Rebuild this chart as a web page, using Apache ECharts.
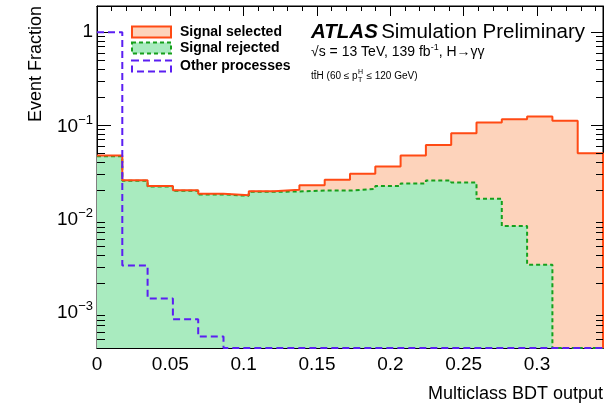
<!DOCTYPE html>
<html><head><meta charset="utf-8">
<script src="https://cdn.jsdelivr.net/npm/echarts@6/dist/echarts.min.js"></script>
<style>html,body{margin:0;padding:0;background:#fff}#c{width:615px;height:407px}</style>
</head><body><div id="c"></div>
<script>
// ---------------- data ----------------
const xMin = 0, xMax = 0.345, nBins = 20;
const yMin = 0.0004, yMax = 1.9;
const seriesNames = ['Signal selected', 'Signal rejected', 'Other processes'];
const signalSelected = [0.0469, 0.0255, 0.0221, 0.0199, 0.0182, 0.0176, 0.0194, 0.0201, 0.0225, 0.0257,
                        0.0298, 0.0357, 0.0469, 0.0610, 0.0815, 0.106, 0.115, 0.123, 0.111, 0.0497];
const signalRejected = [0.0462, 0.0251, 0.0218, 0.0196, 0.0179, 0.0173, 0.0191, 0.0193, 0.0197, 0.0197,
                        0.0206, 0.0220, 0.0235, 0.0253, 0.0240, 0.0161, 0.0082, 0.00315, 0, 0];
const otherProcesses = [0.99, 0.00309, 0.00136, 0.000815, 0.000531, 0, 0, 0, 0, 0,
                        0, 0, 0, 0, 0, 0, 0, 0, 0, 0];
const yDecades = [-4, -3, -2, -1, 0];
const xTitle = 'Multiclass BDT output';
const yTitle = 'Event Fraction';

// ---------------- style ----------------
const FONT = '"Liberation Sans", Arial, Helvetica, sans-serif';
const ORANGE_LINE = '#ff4a14', ORANGE_FILL = '#fdd3bb';
const GREEN_LINE = '#16a01c', GREEN_FILL = '#a9ebbf';
const BLUE = '#5b1ff2';

const binWidth = (xMax - xMin) / nBins;
const edges = Array.from({length: nBins + 1}, (_, i) => +(xMin + i * binWidth).toFixed(6));
function steps(vals) {
  const f = v => (v > 0 ? v : yMin);
  const d = vals.map((v, i) => [edges[i], f(v)]);
  d.push([edges[nBins], f(vals[nBins - 1])]);
  d.push([edges[nBins], yMin]);
  return d;
}

const chart = echarts.init(document.getElementById('c'), null, {renderer: 'canvas'});

const xBase = {type: 'value', min: xMin, max: xMax, splitLine: {show: false},
  axisLine: {show: true, onZero: false, lineStyle: {color: '#000', width: 1}}};
const yBase = {type: 'log', logBase: 10, min: yMin, max: yMax, splitLine: {show: false},
  axisLine: {show: true, onZero: false, lineStyle: {color: '#000', width: 1}}};

chart.setOption({
  animation: false,
  backgroundColor: '#fff',
  grid: {left: 97, right: 12, top: 6, bottom: 59, show: true, borderColor: '#000', borderWidth: 1},
  xAxis: [
    Object.assign({}, xBase, {position: 'bottom', interval: 0.05,
      axisTick: {inside: true, length: 10, lineStyle: {color: '#000'}},
      axisLabel: {margin: 7, fontSize: 19, fontFamily: FONT, color: '#000', showMaxLabel: false}}),
    Object.assign({}, xBase, {position: 'bottom', interval: 0.01,
      axisTick: {inside: true, length: 5, lineStyle: {color: '#000'}}, axisLabel: {show: false}}),
    Object.assign({}, xBase, {position: 'top', interval: 0.05,
      axisTick: {inside: true, length: 10, lineStyle: {color: '#000'}}, axisLabel: {show: false}}),
    Object.assign({}, xBase, {position: 'top', interval: 0.01,
      axisTick: {inside: true, length: 5, lineStyle: {color: '#000'}}, axisLabel: {show: false}})
  ],
  yAxis: [
    Object.assign({}, yBase, {position: 'left',
      axisTick: {inside: true, length: 14, lineStyle: {color: '#000'}},
      axisLabel: {margin: 4, showMinLabel: false, showMaxLabel: false, color: '#000',
        formatter: function (v) {
          const e = Math.round(Math.log10(v));
          return e === 0 ? '{n|1}' : '{n|10}{s|\u2212' + (-e) + '}';
        },
        rich: {
          n: {fontSize: 19, fontFamily: FONT, color: '#000', verticalAlign: 'bottom'},
          s: {fontSize: 13, fontFamily: FONT, color: '#000', verticalAlign: 'bottom', padding: [0, 0, 9, 0]}
        }}}),
    Object.assign({}, yBase, {position: 'right',
      axisTick: {inside: true, length: 12, lineStyle: {color: '#000'}}, axisLabel: {show: false}})
  ],
  series: [
    {name: seriesNames[0], type: 'line', step: 'end', symbol: 'none', data: steps(signalSelected),
      lineStyle: {width: 0}, areaStyle: {color: ORANGE_FILL, opacity: 1, origin: 'start'}, z: 2},
    {name: seriesNames[1], type: 'line', step: 'end', symbol: 'none', data: steps(signalRejected),
      lineStyle: {color: GREEN_LINE, width: 2, type: [4, 3]}, areaStyle: {color: GREEN_FILL, opacity: 1, origin: 'start'}, z: 3},
    {name: seriesNames[0], type: 'line', step: 'end', symbol: 'none', data: steps(signalSelected),
      lineStyle: {color: ORANGE_LINE, width: 2}, z: 4},
    {name: seriesNames[2], type: 'line', step: 'end', symbol: 'none', data: steps(otherProcesses),
      lineStyle: {color: BLUE, width: 2, type: [7, 4]}, z: 5}
  ]
});

// --------- decorations: minor log ticks, legend, labels ---------
const xl = chart.convertToPixel({xAxisIndex: 0}, xMin);
const xr = chart.convertToPixel({xAxisIndex: 0}, xMax);
const g = [];
yDecades.forEach(n => {
  for (let k = 2; k <= 9; k++) {
    const v = k * Math.pow(10, n);
    if (v <= yMin || v >= yMax) continue;
    const y = Math.round(chart.convertToPixel({yAxisIndex: 0}, v)) + 0.5;
    g.push({type: 'line', silent: true, z: 10, shape: {x1: xl, y1: y, x2: xl + 8, y2: y}, style: {stroke: '#000', lineWidth: 1}});
    g.push({type: 'line', silent: true, z: 10, shape: {x1: xr - 7, y1: y, x2: xr, y2: y}, style: {stroke: '#000', lineWidth: 1}});
  }
});

// legend
const legX = 132, legW = 39, legH = 11, legTextX = 180;
const legRows = [32, 48, 66];
g.push({type: 'rect', z: 10, shape: {x: legX, y: legRows[0] - legH / 2, width: legW, height: legH},
  style: {fill: ORANGE_FILL, stroke: ORANGE_LINE, lineWidth: 2}});
g.push({type: 'rect', z: 10, shape: {x: legX, y: legRows[1] - legH / 2, width: legW, height: legH},
  style: {fill: GREEN_FILL, stroke: GREEN_LINE, lineWidth: 2, lineDash: [4, 3]}});
g.push({type: 'rect', z: 10, shape: {x: legX, y: legRows[2] - legH / 2, width: legW, height: legH},
  style: {fill: 'none', stroke: BLUE, lineWidth: 2, lineDash: [7, 4]}});
seriesNames.forEach((name, i) => {
  g.push({type: 'text', z: 10, x: legTextX, y: legRows[i],
    style: {text: name, fill: '#000', font: 'bold 14px ' + FONT, align: 'left', verticalAlign: 'middle'}});
});

// ATLAS label
const atlX = 311;
g.push({type: 'text', z: 10, x: atlX, y: 32, style: {
  text: '{a|ATLAS} {b|Simulation Preliminary}', align: 'left', verticalAlign: 'middle',
  rich: {a: {fontSize: 20.5, fontWeight: 'bold', fontStyle: 'italic', fontFamily: FONT, fill: '#000'},
         b: {fontSize: 20.5, fontFamily: FONT, fill: '#000'}}}});
g.push({type: 'text', z: 10, x: atlX, y: 51, style: {
  text: '{b|\u221As = 13 TeV, 139 fb}{s|-1}{b|, H\u2192\u03B3\u03B3}', align: 'left', verticalAlign: 'middle',
  rich: {b: {fontSize: 14, fontFamily: FONT, fill: '#000', verticalAlign: 'bottom'},
         s: {fontSize: 9, fontFamily: FONT, fill: '#000', verticalAlign: 'bottom', padding: [0, 0, 7, 0]}}}});

// ttH line with t-bar and stacked sub/superscript
const ctx = document.createElement('canvas').getContext('2d');
ctx.font = '10px ' + FONT;
const p1 = 'ttH (60 \u2264 p';
const p2 = ' \u2264 120 GeV)';
const w1 = ctx.measureText(p1).width;
const wt = ctx.measureText('t').width, wtt = ctx.measureText('tt').width;
ctx.font = '7px ' + FONT;
const wS = Math.max(ctx.measureText('H').width, ctx.measureText('T').width);
const l3y = 76;
g.push({type: 'text', z: 10, x: atlX, y: l3y, style: {text: p1, font: '10px ' + FONT, fill: '#000', align: 'left', verticalAlign: 'middle'}});
g.push({type: 'line', z: 10, silent: true, shape: {x1: atlX + wt + 0.3, y1: l3y - 5.5, x2: atlX + wtt - 0.3, y2: l3y - 5.5}, style: {stroke: '#000', lineWidth: 0.8}});
g.push({type: 'text', z: 10, x: atlX + w1 + 0.5, y: l3y - 4, style: {text: 'H', font: '7px ' + FONT, fill: '#000', align: 'left', verticalAlign: 'middle'}});
g.push({type: 'text', z: 10, x: atlX + w1 + 0.5, y: l3y + 4, style: {text: 'T', font: '7px ' + FONT, fill: '#000', align: 'left', verticalAlign: 'middle'}});
g.push({type: 'text', z: 10, x: atlX + w1 + wS + 1, y: l3y, style: {text: p2, font: '10px ' + FONT, fill: '#000', align: 'left', verticalAlign: 'middle'}});

// axis titles
g.push({type: 'text', z: 10, x: xr, y: 394, style: {text: xTitle, font: '18px ' + FONT, fill: '#000', align: 'right', verticalAlign: 'middle'}});
g.push({type: 'text', z: 10, x: 36, y: 6, rotation: Math.PI / 2, style: {text: yTitle, font: '18px ' + FONT, fill: '#000', align: 'right', verticalAlign: 'middle'}});

chart.setOption({graphic: {elements: g}});
</script>
</body></html>
